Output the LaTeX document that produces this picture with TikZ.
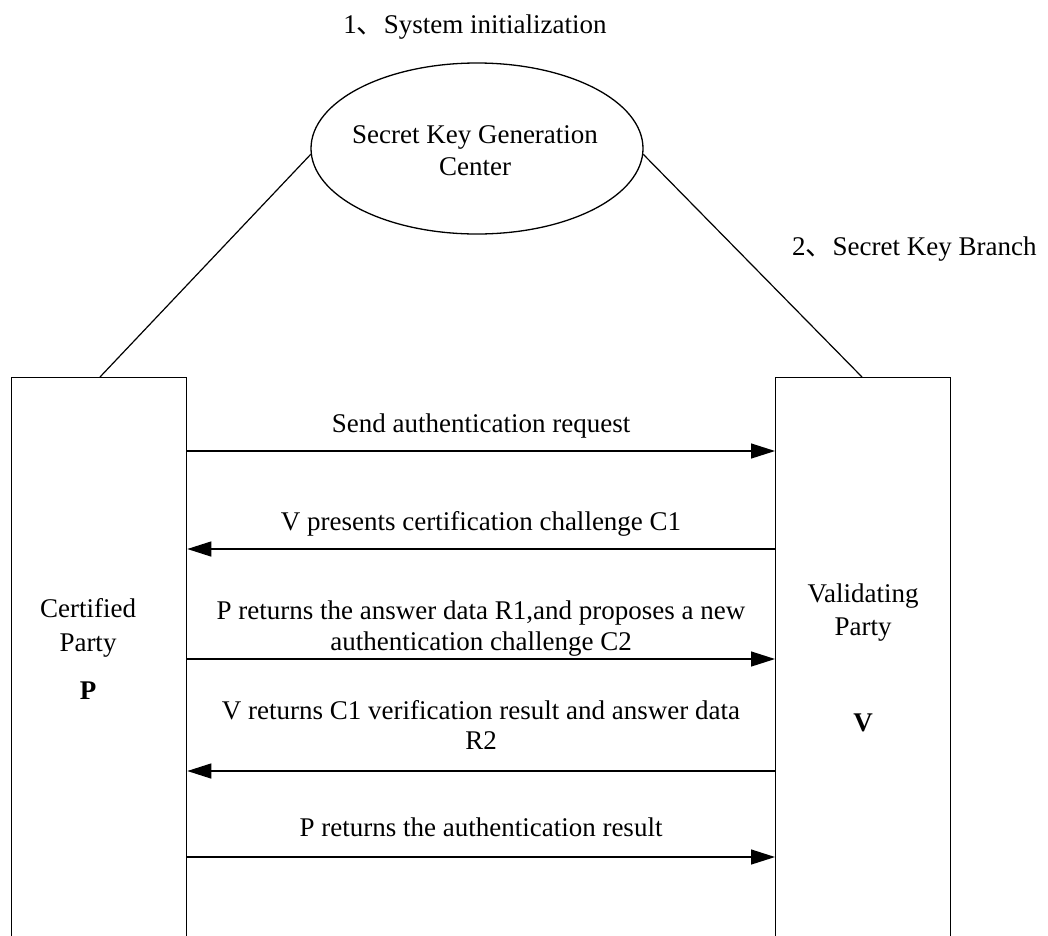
\documentclass[tikz,border=0pt]{standalone}
\usepackage{fontspec}
\setmainfont{Liberation Serif}
\newfontfamily\cjk{Noto Sans CJK SC}
\usetikzlibrary{arrows.meta,shapes.geometric}
\begin{document}
\begin{tikzpicture}[x=1pt,y=-1pt,
  every node/.style={font=\fontsize{27}{33}\selectfont, inner sep=0pt},
  party/.style={draw, line width=1.3pt, minimum width=175pt, minimum height=640pt, anchor=north west},
  centre/.style={draw, ellipse, line width=1.3pt, minimum width=332pt, minimum height=171pt},
  link/.style={line width=1.2pt},
  msg/.style={line width=1.3pt, -{Triangle[length=24pt,width=15pt]}},
  txt/.style={anchor=base}]
\useasboundingbox (0,0) rectangle (1048,935);
\clip (0,0) rectangle (1048,935);

% the two parties (their boxes run past the lower edge)
\node[party] (cp) at (11,377) {};
\node[party] (vp) at (775,377) {};

% key generation centre
\node[centre] (kgc) at (477,148.5) {};
\node[txt] (kgc1) at (475,143) {Secret Key Generation};
\node[txt] (kgc2) at (475,175) {Center};

% key distribution links
\coordinate (lfoot) at (100,377);
\coordinate (rfoot) at (862,377);
\draw[link] (kgc.182) -- (lfoot);
\draw[link] (kgc.-2) -- (rfoot);

% step captions
\node[txt] (s1) at (475,33) {1{\cjk 、}System initialization};
\node[txt, anchor=base west] (s2) at (792,255) {2{\cjk 、}Secret Key Branch};

% party labels
\node[txt] (cp1) at (88,617) {Certified};
\node[txt] (cp2) at (88,651) {Party};
\node[txt, font=\fontsize{27}{33}\selectfont\bfseries] (cp3) at (88,699) {P};
\node[txt] (vp1) at (863,602) {Validating};
\node[txt] (vp2) at (863,635) {Party};
\node[txt, font=\fontsize{27}{33}\selectfont\bfseries] (vp3) at (863,731) {V};

% message exchange
\draw[msg] (cp.east |- 0,451) -- (vp.west |- 0,451);
\node[txt] (m1) at (481,432) {Send authentication request};

\draw[msg] (vp.west |- 0,549) -- (cp.east |- 0,549);
\node[txt] (m2) at (481,530) {V presents certification challenge C1};

\draw[msg] (cp.east |- 0,659) -- (vp.west |- 0,659);
\node[txt] (m3a) at (481,619) {P returns the answer data R1,and proposes a new};
\node[txt] (m3b) at (481,650) {authentication challenge C2};

\draw[msg] (vp.west |- 0,771) -- (cp.east |- 0,771);
\node[txt] (m4a) at (481,719) {V returns C1 verification result and answer data};
\node[txt] (m4b) at (481,749) {R2};

\draw[msg] (cp.east |- 0,857) -- (vp.west |- 0,857);
\node[txt] (m5) at (481,836) {P returns the authentication result};
\end{tikzpicture}
\end{document}
